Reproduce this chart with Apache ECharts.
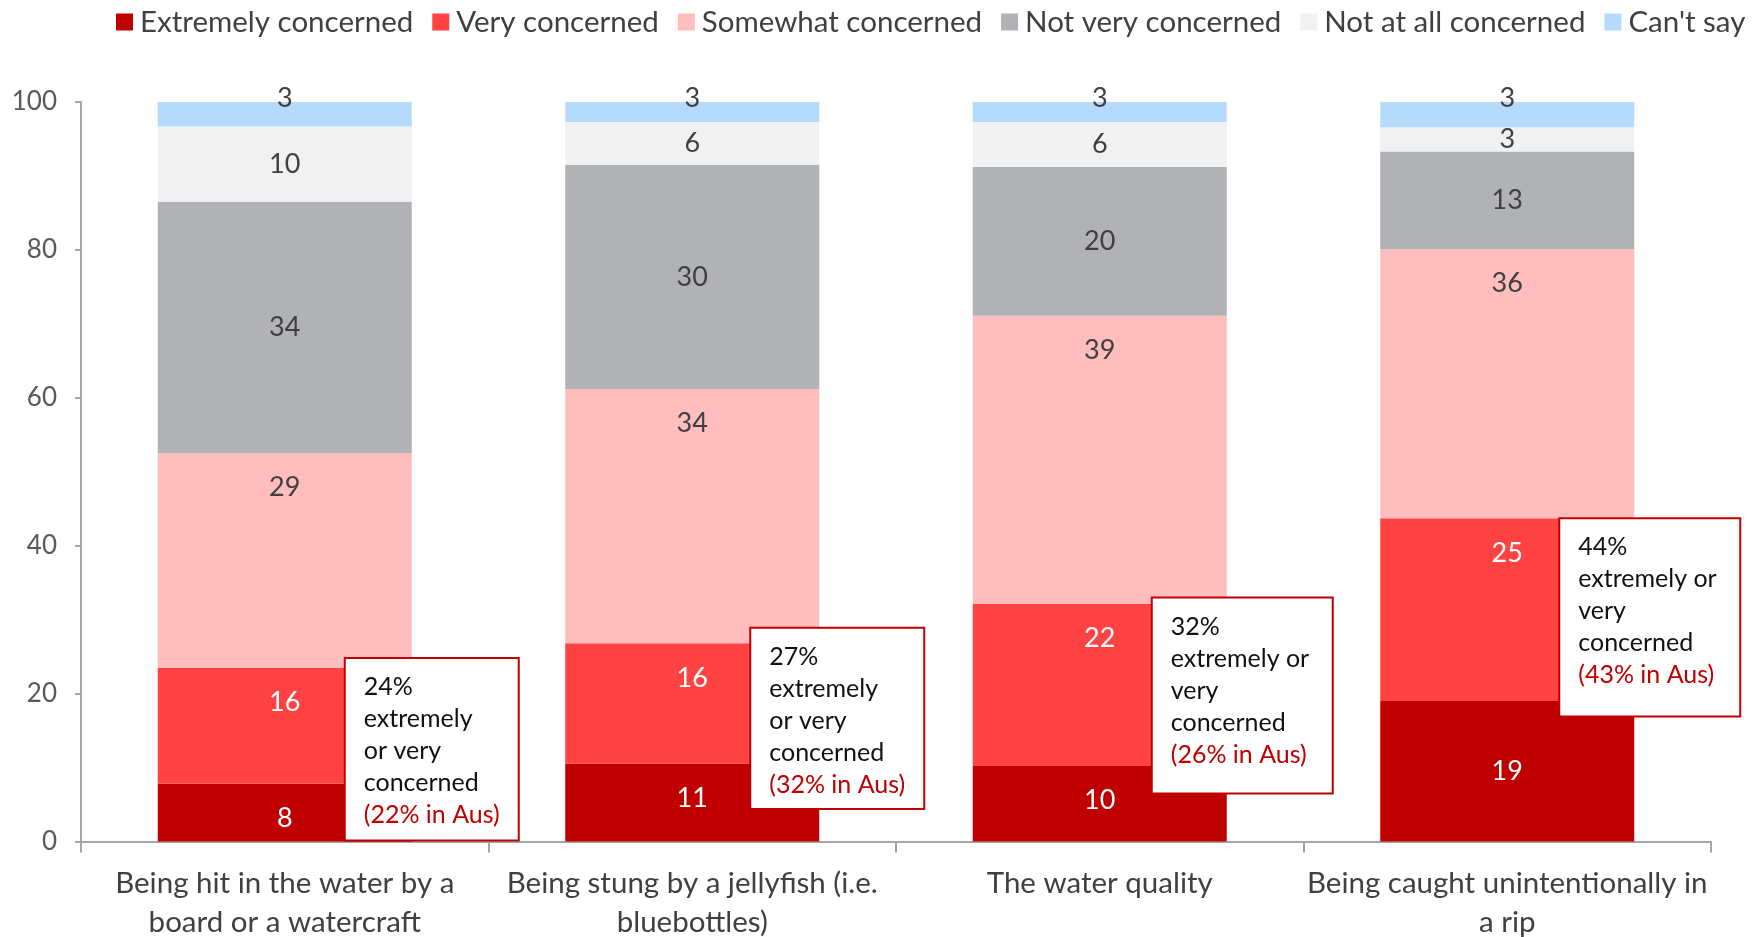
<!DOCTYPE html>
<html><head><meta charset="utf-8">
<script src="https://cdn.jsdelivr.net/npm/echarts@6/dist/echarts.min.js"></script>
<style>html,body{margin:0;padding:0;background:#fff}#c{width:1764px;height:937px}</style>
</head><body><div id="c"></div>
<script>
const categories = ["Being hit in the water by a\nboard or a watercraft", "Being stung by a jellyfish (i.e.\nbluebottles)", "The water quality", "Being caught unintentionally in\na rip"];
const seriesNames = ["Extremely concerned", "Very concerned", "Somewhat concerned", "Not very concerned", "Not at all concerned", "Can't say"];
const extremely = [7.8, 10.5, 10.2, 19.0];
const very = [15.7, 16.3, 21.9, 24.7];
const somewhat = [29.0, 34.4, 39.0, 36.4];
const notVery = [34.0, 30.3, 20.1, 13.2];
const notAtAll = [10.2, 5.8, 6.1, 3.3];
const cantSay = [3.3, 2.7, 2.7, 3.4];
const yTicks = [0, 20, 40, 60, 80, 100];
const noteShare = ["24%", "27%", "32%", "44%"];
const noteLines = [["extremely", "or very", "concerned"], ["extremely", "or very", "concerned"], ["extremely or", "very", "concerned"], ["extremely or", "very", "concerned"]];
const noteAus = ["(22% in Aus)", "(32% in Aus)", "(26% in Aus)", "(43% in Aus)"];

// layout of the note boxes (not data)
const noteLayout = [
  {dx: 60, top: 24.8, bottom: 0.15, w: 174},
  {dx: 58, top: 28.9, bottom: 4.4, w: 174},
  {dx: 52, top: 33.0, bottom: 6.5, w: 181},
  {dx: 52, top: 43.7, bottom: 16.9, w: 181}
];

const FONT = 'Lato';
const colors = ['#C00000', '#FF4343', '#FFBDBD', '#B1B2B6', '#F1F1F1', '#B6DAFB'];
const values = [extremely, very, somewhat, notVery, notAtAll, cantSay];
const darkText = '#404040';

function labelFor(i) {
  const base = {show: true, fontFamily: FONT, fontSize: 27, lineHeight: 27,
    formatter: p => Math.round(p.value)};
  if (i <= 1) return Object.assign(base, {position: 'insideTop', distance: 21, color: '#fff'});
  if (i === 2) return Object.assign(base, {position: 'insideTop', distance: 21, color: darkText});
  if (i === 5) return Object.assign(base, {position: 'top', distance: -10, color: darkText});
  return Object.assign(base, {position: 'inside', color: darkText});
}

const series = seriesNames.map((name, i) => ({
  name, type: 'bar', stack: 'all', barWidth: 254,
  itemStyle: {color: colors[i]},
  label: labelFor(i),
  emphasis: {disabled: true},
  data: values[i].map((v, j) => {
    if (i === 0 && j === 3) return {value: v, label: {position: 'inside'}};
    return v;
  })
}));

const chart = echarts.init(document.getElementById('c'), null, {renderer: 'canvas'});
chart.setOption({
  animation: false,
  backgroundColor: '#fff',
  legend: {
    top: 2, left: 111, itemWidth: 17, itemHeight: 17, itemGap: 19, icon: 'rect',
    textStyle: {fontFamily: FONT, fontSize: 29.5, color: darkText, padding: [0, 0, 0, 2]},
    data: seriesNames
  },
  grid: {left: 81, right: 53, top: 102, bottom: 95.5, containLabel: false, outerBoundsMode: 'none'},
  xAxis: {
    type: 'category', data: categories,
    axisLine: {lineStyle: {color: '#A6A6A6', width: 2}},
    axisTick: {show: true, length: 11, lineStyle: {color: '#A6A6A6', width: 2}},
    axisLabel: {fontFamily: FONT, fontSize: 29.5, lineHeight: 38.5, color: darkText, margin: 23, interval: 0}
  },
  yAxis: {
    type: 'value', min: 0, max: 100, interval: 20,
    axisLine: {show: true, lineStyle: {color: '#A6A6A6', width: 2}},
    axisTick: {show: true, length: 6, lineStyle: {color: '#A6A6A6', width: 2}},
    splitLine: {show: false},
    axisLabel: {fontFamily: FONT, fontSize: 26, color: '#595959', margin: 24,
      formatter: v => yTicks.includes(v) ? String(v) : ''}
  },
  series
});

const graphics = [];
noteLayout.forEach((b, j) => {
  const [cx, yTop] = chart.convertToPixel({seriesIndex: 0}, [j, b.top]);
  const [, yBot] = chart.convertToPixel({seriesIndex: 0}, [j, b.bottom]);
  const x = cx + b.dx;
  graphics.push({
    type: 'rect', z: 100,
    shape: {x: x, y: yTop, width: b.w, height: yBot - yTop},
    style: {fill: '#fff', stroke: '#C00000', lineWidth: 2}
  });
  const lines = [noteShare[j]].concat(noteLines[j]).map(t => '{k|' + t + '}');
  lines.push('{r|' + noteAus[j] + '}');
  graphics.push({
    type: 'text', z: 101,
    x: x + 19, y: yTop + 13,
    style: {
      text: lines.join('\n'),
      fontFamily: FONT, fontSize: 25,
      rich: {
        k: {fontFamily: FONT, fontSize: 25, lineHeight: 32, fill: '#111', color: '#111'},
        r: {fontFamily: FONT, fontSize: 25, lineHeight: 32, fill: '#C00000', color: '#C00000'}
      }
    }
  });
});
chart.setOption({graphic: graphics});
</script>
</body></html>
